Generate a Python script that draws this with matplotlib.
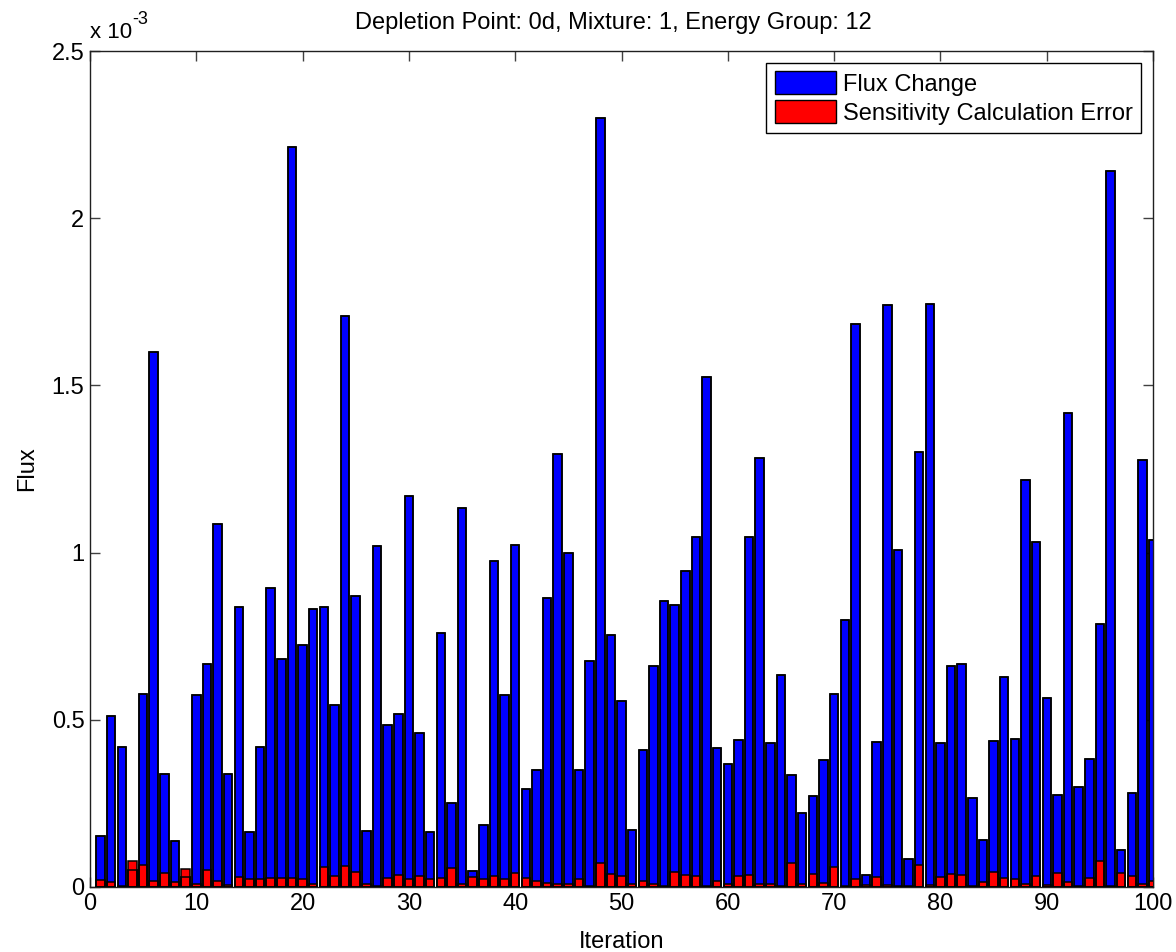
import matplotlib
matplotlib.use('Agg')
import matplotlib.pyplot as plt
from matplotlib.ticker import FormatStrFormatter
from matplotlib.patches import Patch
import numpy as np

plt.rcParams['font.family'] = ['Liberation Sans', 'DejaVu Sans']

# iteration index and flux values (in units of 1e-3)
iterations = list(range(1, 101))

flux_change = [
    0.152, 0.512, 0.418, 0.050, 0.577, 1.601, 0.338, 0.137, 0.029, 0.574,
    0.667, 1.086, 0.338, 0.837, 0.164, 0.418, 0.895, 0.683, 2.213, 0.724,
    0.830, 0.837, 0.543, 1.708, 0.871, 0.167, 1.020, 0.485, 0.516, 1.168,
    0.461, 0.164, 0.761, 0.250, 1.134, 0.048, 0.184, 0.974, 0.574, 1.024,
    0.294, 0.351, 0.864, 1.294, 1.000, 0.351, 0.677, 2.299, 0.755, 0.557,
    0.170, 0.410, 0.662, 0.856, 0.843, 0.946, 1.047, 1.526, 0.417, 0.369,
    0.440, 1.047, 1.283, 0.430, 0.635, 0.335, 0.222, 0.273, 0.379, 0.577,
    0.798, 1.684, 0.037, 0.433, 1.742, 1.007, 0.085, 1.300, 1.745, 0.430,
    0.662, 0.666, 0.265, 0.140, 0.436, 0.628, 0.443, 1.218, 1.031, 0.566,
    0.275, 1.417, 0.300, 0.382, 0.788, 2.141, 0.110, 0.280, 1.277, 1.037,
]

sens_error = [
    0.020, 0.016, 0.003, 0.079, 0.067, 0.019, 0.043, 0.015, 0.054, 0.008,
    0.050, 0.019, 0.005, 0.029, 0.023, 0.023, 0.026, 0.026, 0.026, 0.023,
    0.008, 0.060, 0.032, 0.064, 0.046, 0.009, 0.003, 0.027, 0.036, 0.023,
    0.033, 0.023, 0.026, 0.057, 0.008, 0.029, 0.023, 0.033, 0.023, 0.043,
    0.027, 0.019, 0.012, 0.009, 0.009, 0.023, 0.003, 0.071, 0.039, 0.033,
    0.009, 0.019, 0.009, 0.003, 0.046, 0.036, 0.033, 0.003, 0.019, 0.009,
    0.033, 0.036, 0.009, 0.009, 0.003, 0.071, 0.009, 0.040, 0.013, 0.060,
    0.003, 0.023, 0.006, 0.030, 0.005, 0.003, 0.003, 0.067, 0.005, 0.029,
    0.039, 0.036, 0.003, 0.015, 0.046, 0.026, 0.023, 0.008, 0.033, 0.005,
    0.043, 0.016, 0.003, 0.026, 0.077, 0.003, 0.043, 0.033, 0.008, 0.019,
]

FS = 17

fig = plt.figure(figsize=(11.76, 9.52), dpi=100)
ax = fig.add_axes([0.0765, 0.0683, 0.904, 0.878])

w = 0.8
ax.bar(iterations, flux_change, width=w, color='#0000ff', edgecolor='black',
       linewidth=1.1, zorder=2)
ax.bar(iterations, sens_error, width=w, color='#ff0000', edgecolor='black',
       linewidth=1.1, zorder=3)
# blue outlines stay visible over the red bars
ax.bar(iterations, flux_change, width=w, fill=False, edgecolor='black',
       linewidth=1.1, zorder=4)

ax.set_xlim(0, 100)
ax.set_ylim(0, 2.5)
ax.set_xticks(np.arange(0, 101, 10))
ax.set_yticks(np.arange(0, 2.51, 0.5))
ax.yaxis.set_major_formatter(FormatStrFormatter('%g'))

ax.tick_params(direction='in', length=7, width=1, top=True, right=True,
               labelsize=FS, color='#404040', pad=4)
for s in ax.spines.values():
    s.set_linewidth(1.0)
    s.set_color('#202020')

ax.set_xlabel('Iteration', fontsize=FS, labelpad=12)
ax.set_ylabel('Flux', fontsize=FS, labelpad=10)
ax.set_title('Depletion Point: 0d, Mixture: 1, Energy Group: 12', fontsize=FS,
             pad=16, x=0.492)

# exponent label above the y axis
base = ax.text(0.0, 1.01, 'x 10', transform=ax.transAxes, fontsize=FS - 1,
               ha='left', va='bottom')
ax.annotate('-3', xy=(1.0, 0.72), xycoords=base, fontsize=FS - 4,
            ha='left', va='bottom')

handles = [Patch(facecolor='#0000ff', edgecolor='black', label='Flux Change'),
           Patch(facecolor='#ff0000', edgecolor='black', label='Sensitivity Calculation Error')]
leg = ax.legend(handles=handles, loc='upper right', fontsize=FS, fancybox=False,
                framealpha=1, edgecolor='black', handlelength=2.6, handleheight=1.1,
                labelspacing=0.2, borderaxespad=0.5, handletextpad=0.3,
                borderpad=0.35)
leg.get_frame().set_linewidth(1.0)

fig.savefig('out.png', dpi=100)
